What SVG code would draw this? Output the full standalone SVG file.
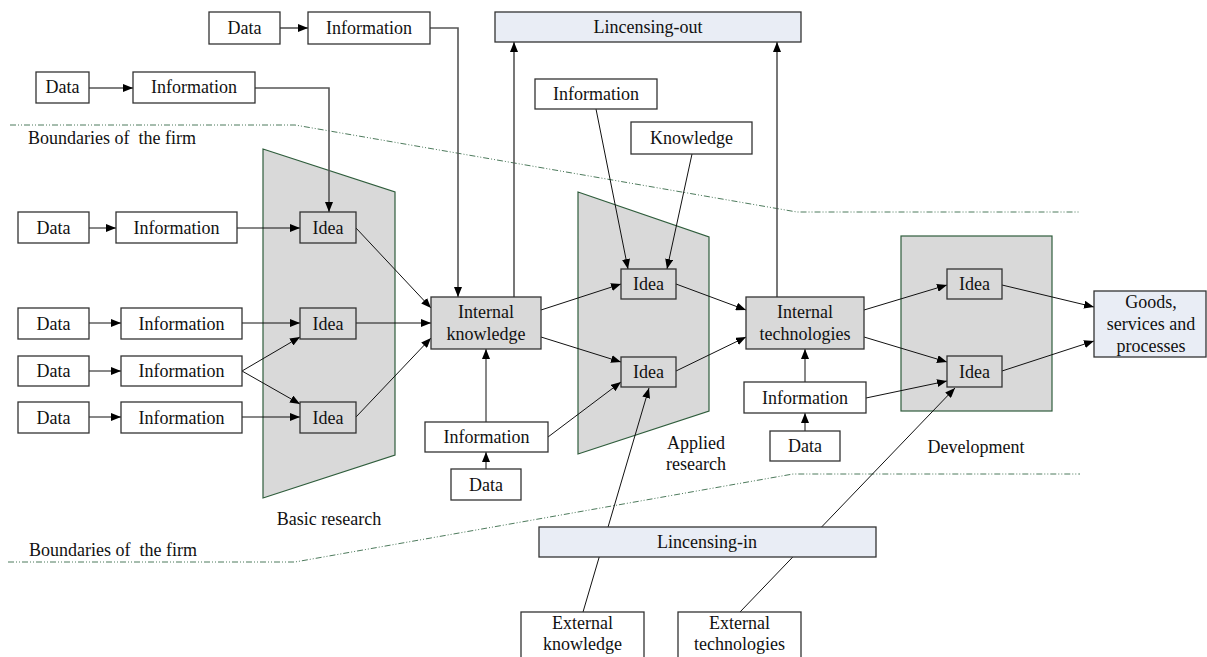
<svg xmlns="http://www.w3.org/2000/svg" width="1207" height="657" viewBox="0 0 1207 657">
<style>
text{font-family:"Liberation Serif","DejaVu Serif","Times New Roman",serif;font-size:18px;fill:#111;text-anchor:middle}
.lbl{text-anchor:start;white-space:pre}
.box{fill:#fff;stroke:#333;stroke-width:1.3}
.g{fill:#d9d9d9;stroke:#333;stroke-width:1.3}
.b{fill:#e9edf5;stroke:#333;stroke-width:1.3}
.stage{fill:#d9d9d9;stroke:#2f5d3c;stroke-width:1.2}
.bound{fill:none;stroke:#4d7a5c;stroke-width:1;stroke-dasharray:6 2 1 2 1 2}
.c{fill:none;stroke:#111;stroke-width:1;marker-end:url(#ah)}
.o{fill:none;stroke:#555;stroke-width:1.6;marker-end:url(#ah)}
</style>
<defs>
<marker id="ah" markerUnits="userSpaceOnUse" markerWidth="10" markerHeight="8" refX="10" refY="4" orient="auto">
<path d="M0,0 L10,4 L0,8 z" fill="#000"/>
</marker>
</defs>
<rect width="1207" height="657" fill="#fff"/>
<g id="boundaries">
<polyline class="bound" points="10,125 295,125 797,212 1080,212"/>
<polyline class="bound" points="8,562 295,562 793,474 1080,474"/>
<text class="lbl" x="28" y="144" xml:space="preserve">Boundaries of  the firm</text>
<text class="lbl" x="29" y="556" xml:space="preserve">Boundaries of  the firm</text>
</g>
<g id="stages">
<polygon id="basic-research" class="stage" points="263,149 395,192 395,455 263,498"/>
<polygon id="applied-research" class="stage" points="578,192 709,237 709,411 578,454"/>
<rect id="development" class="stage" x="901" y="236" width="151" height="175"/>
<text x="329" y="525">Basic research</text>
<text x="696" y="449">Applied</text>
<text x="696" y="470">research</text>
<text x="976" y="453">Development</text>
</g>
<g id="connectors">
<line class="o" x1="280" y1="28" x2="308" y2="28"/>
<polyline class="o" points="430,28 458,28 458,297"/>
<line class="o" x1="89" y1="88" x2="133" y2="88"/>
<polyline class="o" points="255,88 329,88 329,212"/>
<line class="c" x1="89" y1="228" x2="116" y2="228"/>
<line class="c" x1="237" y1="228" x2="300" y2="228"/>
<line class="c" x1="89" y1="323" x2="121" y2="323"/>
<line class="c" x1="242" y1="323" x2="300" y2="323"/>
<line class="c" x1="89" y1="371" x2="121" y2="371"/>
<line class="c" x1="242" y1="371" x2="300" y2="337"/>
<line class="c" x1="242" y1="371" x2="300" y2="404"/>
<line class="c" x1="89" y1="417" x2="121" y2="417"/>
<line class="c" x1="242" y1="417" x2="300" y2="417"/>
<line class="c" x1="356" y1="228" x2="431" y2="308"/>
<line class="c" x1="356" y1="323" x2="431" y2="323"/>
<line class="c" x1="356" y1="417" x2="431" y2="338"/>
<line class="c" x1="486" y1="422" x2="486" y2="349"/>
<line class="c" x1="486" y1="469" x2="486" y2="452"/>
<line class="o" x1="514" y1="297" x2="514" y2="42"/>
<line class="c" x1="548" y1="437" x2="621" y2="382"/>
<line class="c" x1="541" y1="310" x2="621" y2="284"/>
<line class="c" x1="541" y1="337" x2="621" y2="362"/>
<line class="c" x1="596" y1="109" x2="628" y2="269"/>
<line class="c" x1="692" y1="154" x2="667" y2="269"/>
<line class="c" x1="676" y1="284" x2="746" y2="310"/>
<line class="c" x1="676" y1="371" x2="746" y2="337"/>
<line class="o" x1="777" y1="297" x2="777" y2="42"/>
<line class="c" x1="864" y1="310" x2="947" y2="285"/>
<line class="c" x1="864" y1="337" x2="947" y2="362"/>
<line class="c" x1="805" y1="382" x2="805" y2="349"/>
<line class="c" x1="805" y1="431" x2="805" y2="413"/>
<line class="c" x1="866" y1="398" x2="947" y2="381"/>
<line class="c" x1="1002" y1="285" x2="1094" y2="307"/>
<line class="c" x1="1002" y1="371" x2="1094" y2="341"/>
<line class="c" x1="583" y1="612" x2="649" y2="388"/>
<line class="c" x1="740" y1="612" x2="955" y2="388"/>
</g>
<g id="n-data-t1"><rect class="box" x="209" y="12" width="71" height="32"/><text x="244.5" y="34">Data</text></g>
<g id="n-info-t1"><rect class="box" x="308" y="12" width="122" height="32"/><text x="369" y="34">Information</text></g>
<g id="n-data-t2"><rect class="box" x="36" y="72" width="53" height="31"/><text x="62.5" y="93">Data</text></g>
<g id="n-info-t2"><rect class="box" x="133" y="72" width="122" height="31"/><text x="194" y="93">Information</text></g>
<g id="n-lic-out"><rect class="b" x="495" y="12" width="306" height="30"/><text x="648" y="33">Lincensing-out</text></g>
<g id="n-info-ar"><rect class="box" x="535" y="79" width="122" height="30"/><text x="596" y="100">Information</text></g>
<g id="n-knowledge"><rect class="box" x="631" y="122" width="121" height="32"/><text x="691.5" y="144">Knowledge</text></g>
<g id="n-data-r1"><rect class="box" x="18" y="212" width="71" height="31"/><text x="53.5" y="234">Data</text></g>
<g id="n-info-r1"><rect class="box" x="116" y="212" width="121" height="31"/><text x="176.5" y="234">Information</text></g>
<g id="n-data-r2"><rect class="box" x="18" y="308" width="71" height="31"/><text x="53.5" y="330">Data</text></g>
<g id="n-info-r2"><rect class="box" x="121" y="308" width="121" height="31"/><text x="181.5" y="330">Information</text></g>
<g id="n-data-r3"><rect class="box" x="18" y="356" width="71" height="30"/><text x="53.5" y="377">Data</text></g>
<g id="n-info-r3"><rect class="box" x="121" y="356" width="121" height="30"/><text x="181.5" y="377">Information</text></g>
<g id="n-data-r4"><rect class="box" x="18" y="402" width="71" height="31"/><text x="53.5" y="424">Data</text></g>
<g id="n-info-r4"><rect class="box" x="121" y="402" width="121" height="31"/><text x="181.5" y="424">Information</text></g>
<g id="n-idea-b1"><rect class="g" x="300" y="212" width="56" height="31"/><text x="328" y="234">Idea</text></g>
<g id="n-idea-b2"><rect class="g" x="300" y="308" width="56" height="31"/><text x="328" y="330">Idea</text></g>
<g id="n-idea-b3"><rect class="g" x="300" y="402" width="56" height="31"/><text x="328" y="424">Idea</text></g>
<g id="n-int-knowledge"><rect class="g" x="431" y="297" width="110" height="52"/><text x="486" y="318">Internal</text><text x="486" y="340">knowledge</text></g>
<g id="n-info-ik"><rect class="box" x="425" y="422" width="123" height="30"/><text x="486.5" y="443">Information</text></g>
<g id="n-data-ik"><rect class="box" x="451" y="469" width="70" height="31"/><text x="486" y="491">Data</text></g>
<g id="n-idea-a1"><rect class="g" x="621" y="269" width="55" height="30"/><text x="648.5" y="290">Idea</text></g>
<g id="n-idea-a2"><rect class="g" x="621" y="357" width="55" height="30"/><text x="648.5" y="378">Idea</text></g>
<g id="n-int-tech"><rect class="g" x="746" y="297" width="118" height="52"/><text x="805" y="318">Internal</text><text x="805" y="340">technologies</text></g>
<g id="n-info-it"><rect class="box" x="744" y="382" width="122" height="31"/><text x="805" y="404">Information</text></g>
<g id="n-data-it"><rect class="box" x="770" y="431" width="70" height="30"/><text x="805" y="452">Data</text></g>
<g id="n-idea-d1"><rect class="g" x="947" y="269" width="55" height="30"/><text x="974.5" y="290">Idea</text></g>
<g id="n-idea-d2"><rect class="g" x="947" y="356" width="55" height="31"/><text x="974.5" y="378">Idea</text></g>
<g id="n-goods"><rect class="b" x="1094" y="291" width="112" height="66"/><text x="1151" y="308">Goods,</text><text x="1151" y="330">services and</text><text x="1151" y="352">processes</text></g>
<g id="n-lic-in"><rect class="b" x="539" y="527" width="337" height="30"/><text x="707" y="548">Lincensing-in</text></g>
<g id="n-ext-knowledge"><rect class="box" x="521" y="612" width="123" height="50"/><text x="582.5" y="629">External</text><text x="582.5" y="650">knowledge</text></g>
<g id="n-ext-tech"><rect class="box" x="678" y="612" width="123" height="50"/><text x="739.5" y="629">External</text><text x="739.5" y="650">technologies</text></g>
</svg>
